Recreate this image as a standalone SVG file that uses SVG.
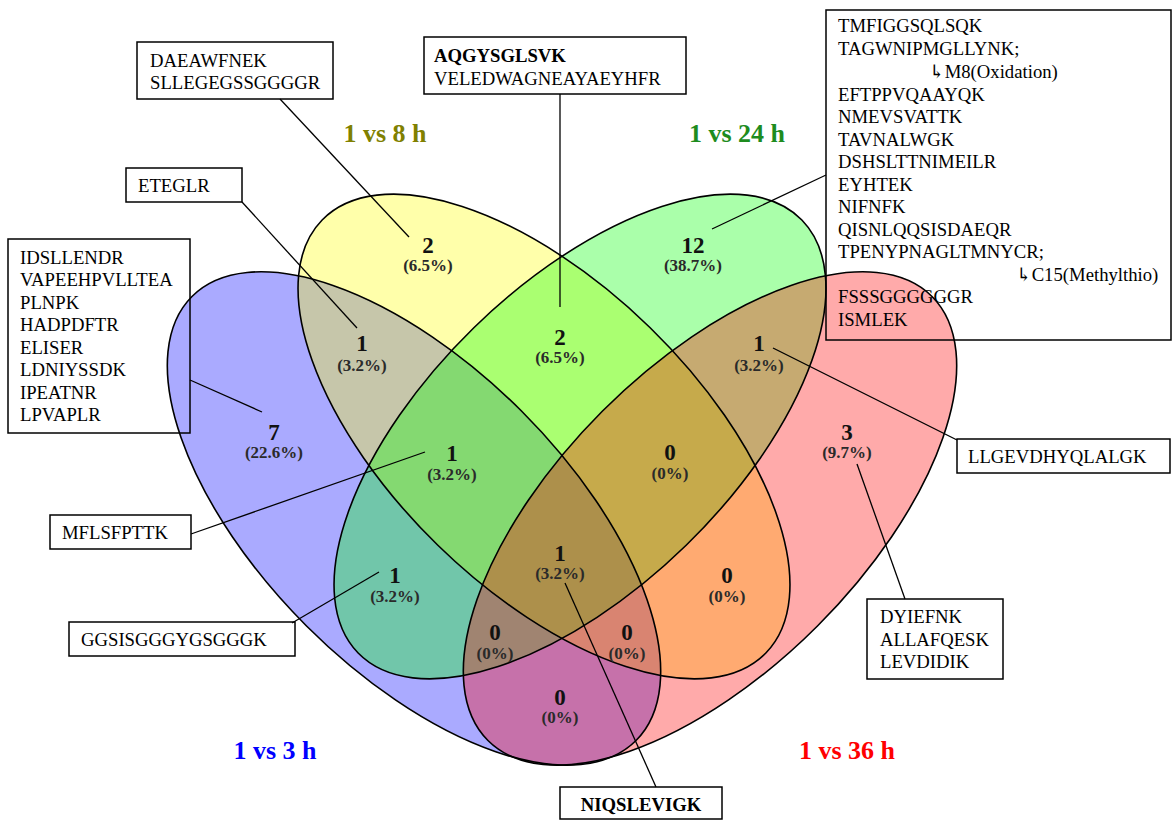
<svg xmlns="http://www.w3.org/2000/svg" width="1173" height="820" viewBox="0 0 1173 820">
<style>
.box{fill:none;stroke:#000;stroke-width:1.5}
.bt{font-family:"Liberation Serif","DejaVu Serif",serif;font-size:18.7px;fill:#000}
.bb{font-weight:bold}
.set{stroke:none;fill-opacity:0.333}
.outl{fill:none;stroke:#000;stroke-width:1.6}
.num{font-family:"Liberation Serif","DejaVu Serif",serif;font-size:23px;font-weight:bold;fill:#111;text-anchor:middle}
.pct{font-family:"Liberation Serif","DejaVu Serif",serif;font-size:17px;font-weight:bold;fill:#2a2a2a;text-anchor:middle}
.ttl{font-family:"Liberation Serif","DejaVu Serif",serif;font-size:26px;font-weight:bold;text-anchor:middle}
.con{stroke:#000;stroke-width:1.3;fill:none}
</style>

<g id="venn-sets">
<ellipse id="set-blue" class="set" fill="#0000ff" cx="0" cy="0" rx="314" ry="152" transform="translate(414,518.5) rotate(45)"/>
<ellipse id="set-yellow" class="set" fill="#ffff00" cx="0" cy="0" rx="310" ry="152" transform="translate(544,436.5) rotate(44.3)"/>
<ellipse id="set-green" class="set" fill="#00ff00" cx="0" cy="0" rx="310" ry="152" transform="translate(580,436.5) rotate(-44.3)"/>
<ellipse id="set-red" class="set" fill="#ff0000" cx="0" cy="0" rx="314" ry="152" transform="translate(710,518.5) rotate(-45)"/>
<ellipse class="outl" cx="0" cy="0" rx="314" ry="152" transform="translate(414,518.5) rotate(45)"/>
<ellipse class="outl" cx="0" cy="0" rx="310" ry="152" transform="translate(544,436.5) rotate(44.3)"/>
<ellipse class="outl" cx="0" cy="0" rx="310" ry="152" transform="translate(580,436.5) rotate(-44.3)"/>
<ellipse class="outl" cx="0" cy="0" rx="314" ry="152" transform="translate(710,518.5) rotate(-45)"/>
</g>

<g id="connectors">
<line class="con" x1="280" y1="99" x2="409" y2="237"/>
<line class="con" x1="560" y1="94" x2="560" y2="307"/>
<line class="con" x1="242" y1="202" x2="357" y2="328"/>
<line class="con" x1="190" y1="380" x2="262" y2="412"/>
<line class="con" x1="191" y1="534" x2="425" y2="452"/>
<line class="con" x1="292" y1="623" x2="379" y2="572"/>
<line class="con" x1="826" y1="175" x2="712" y2="229"/>
<line class="con" x1="773" y1="348" x2="957" y2="440"/>
<line class="con" x1="905" y1="599" x2="857" y2="464"/>
<line class="con" x1="565" y1="583" x2="656" y2="787"/>
</g>

<g id="box-yellow">
<rect class="box" x="137" y="42" width="196" height="57"/>
<text class="bt" x="150" y="67">DAEAWFNEK</text>
<text class="bt" x="150" y="89">SLLEGEGSSGGGGR</text>
</g>
<g id="box-yellow-green">
<rect class="box" x="424" y="37" width="262" height="57"/>
<text class="bt bb" x="434" y="62">AQGYSGLSVK</text>
<text class="bt" x="434" y="85">VELEDWAGNEAYAEYHFR</text>
</g>
<g id="box-blue-yellow">
<rect class="box" x="126" y="168" width="116" height="34"/>
<text class="bt" x="138" y="192">ETEGLR</text>
</g>
<g id="box-blue">
<rect class="box" x="8" y="239" width="182" height="194"/>
<text class="bt" x="20" y="264">IDSLLENDR</text>
<text class="bt" x="20" y="286">VAPEEHPVLLTEA</text>
<text class="bt" x="20" y="309">PLNPK</text>
<text class="bt" x="20" y="331">HADPDFTR</text>
<text class="bt" x="20" y="354">ELISER</text>
<text class="bt" x="20" y="376">LDNIYSSDK</text>
<text class="bt" x="20" y="399">IPEATNR</text>
<text class="bt" x="20" y="421">LPVAPLR</text>
</g>
<g id="box-blue-yellow-green">
<rect class="box" x="50" y="515" width="141" height="34"/>
<text class="bt" x="62" y="539">MFLSFPTTK</text>
</g>
<g id="box-blue-green">
<rect class="box" x="69" y="622" width="226" height="34"/>
<text class="bt" x="81" y="646">GGSISGGGYGSGGGK</text>
</g>
<g id="box-green">
<rect class="box" x="826" y="10" width="345" height="330"/>
<text class="bt" x="838" y="32">TMFIGGSQLSQK</text>
<text class="bt" x="838" y="55">TAGWNIPMGLLYNK;</text>
<text class="bt" x="929" y="78">↳M8(Oxidation)</text>
<text class="bt" x="838" y="101">EFTPPVQAAYQK</text>
<text class="bt" x="838" y="123">NMEVSVATTK</text>
<text class="bt" x="838" y="146">TAVNALWGK</text>
<text class="bt" x="838" y="168">DSHSLTTNIMEILR</text>
<text class="bt" x="838" y="191">EYHTEK</text>
<text class="bt" x="838" y="213">NIFNFK</text>
<text class="bt" x="838" y="236">QISNLQQSISDAEQR</text>
<text class="bt" x="838" y="258">TPENYPNAGLTMNYCR;</text>
<text class="bt" x="1016" y="281">↳C15(Methylthio)</text>
<text class="bt" x="838" y="303">FSSSGGGGGGR</text>
<text class="bt" x="838" y="326">ISMLEK</text>
</g>
<g id="box-green-red">
<rect class="box" x="957" y="439" width="213" height="34"/>
<text class="bt" x="968" y="463">LLGEVDHYQLALGK</text>
</g>
<g id="box-red">
<rect class="box" x="867" y="599" width="136" height="80"/>
<text class="bt" x="880" y="623">DYIEFNK</text>
<text class="bt" x="880" y="646">ALLAFQESK</text>
<text class="bt" x="880" y="668">LEVDIDIK</text>
</g>
<g id="box-all">
<rect class="box" x="560" y="787" width="162" height="32"/>
<text class="bt bb" x="641" y="811" text-anchor="middle">NIQSLEVIGK</text>
</g>

<g id="counts">
<text class="num" x="274" y="440">7</text><text class="pct" x="274" y="458">(22.6%)</text>
<text class="num" x="428" y="253">2</text><text class="pct" x="428" y="271">(6.5%)</text>
<text class="num" x="362" y="351">1</text><text class="pct" x="362" y="371">(3.2%)</text>
<text class="num" x="560" y="345">2</text><text class="pct" x="560" y="363">(6.5%)</text>
<text class="num" x="693" y="253">12</text><text class="pct" x="693" y="271">(38.7%)</text>
<text class="num" x="759" y="351">1</text><text class="pct" x="759" y="371">(3.2%)</text>
<text class="num" x="847" y="440">3</text><text class="pct" x="847" y="458">(9.7%)</text>
<text class="num" x="452" y="461">1</text><text class="pct" x="452" y="480">(3.2%)</text>
<text class="num" x="670" y="460">0</text><text class="pct" x="670" y="479">(0%)</text>
<text class="num" x="560" y="561">1</text><text class="pct" x="560" y="579">(3.2%)</text>
<text class="num" x="395" y="583">1</text><text class="pct" x="395" y="602">(3.2%)</text>
<text class="num" x="727" y="583">0</text><text class="pct" x="727" y="602">(0%)</text>
<text class="num" x="495" y="640">0</text><text class="pct" x="495" y="659">(0%)</text>
<text class="num" x="627" y="640">0</text><text class="pct" x="627" y="659">(0%)</text>
<text class="num" x="560" y="705">0</text><text class="pct" x="560" y="723">(0%)</text>
</g>

<g id="titles">
<text class="ttl" x="385" y="142" fill="#808000">1 vs 8 h</text>
<text class="ttl" x="737" y="142" fill="#1e8c1e">1 vs 24 h</text>
<text class="ttl" x="275" y="759" fill="#0000ff">1 vs 3 h</text>
<text class="ttl" x="847" y="759" fill="#ff0000">1 vs 36 h</text>
</g>
</svg>
